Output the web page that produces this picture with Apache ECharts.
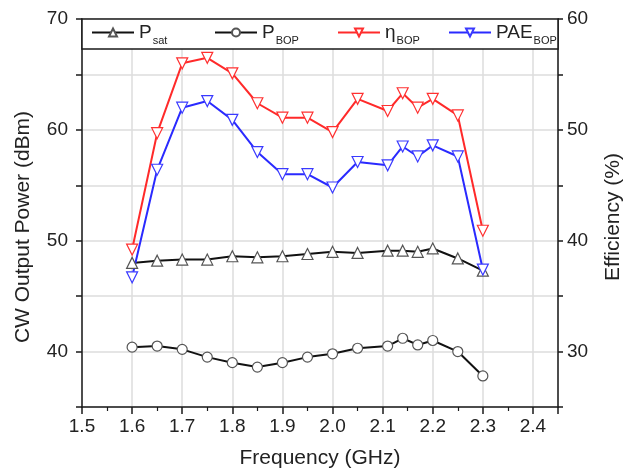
<!DOCTYPE html>
<html>
<head>
<meta charset="utf-8">
<script src="https://cdn.jsdelivr.net/npm/echarts@6/dist/echarts.min.js"></script>
<style>
  html, body { margin: 0; padding: 0; background: #fff; }
  #main { width: 626px; height: 468px; }
</style>
</head>
<body>
<div id="main"></div>
<script>
// frequency points (GHz)
var freq = [1.6, 1.65, 1.7, 1.75, 1.8, 1.85, 1.9, 1.95, 2.0, 2.05, 2.11, 2.14, 2.17, 2.2, 2.25, 2.3]
// left axis, dBm
var pSat = [48.0, 48.2, 48.3, 48.3, 48.6, 48.5, 48.6, 48.8, 49.0, 48.9, 49.1, 49.1, 49.0, 49.3, 48.4, 47.3]
var pBop = [40.4, 40.5, 40.2, 39.5, 39.0, 38.6, 39.0, 39.5, 39.8, 40.3, 40.5, 41.2, 40.6, 41.0, 40.0, 37.8]
// right axis, %
var etaBop = [39.2, 49.7, 56.0, 56.5, 55.1, 52.4, 51.1, 51.1, 49.8, 52.8, 51.7, 53.3, 52.0, 52.8, 51.3, 40.9]
var paeBop = [36.7, 46.4, 52.0, 52.6, 50.9, 48.0, 46.0, 46.0, 44.8, 47.1, 46.8, 48.5, 47.6, 48.6, 47.6, 37.4]

var xTicks = ['1.5', '1.6', '1.7', '1.8', '1.9', '2.0', '2.1', '2.2', '2.3', '2.4']
var leftTicks = [40, 50, 60, 70]
var rightTicks = [30, 40, 50, 60]

function pairs(ys) {
    var out = []
    for (var i = 0; i < freq.length; i++) {
        out.push([freq[i], ys[i]])
    }
    return out
}

var font = 'Arial, "Liberation Sans", sans-serif'
var textColor = '#222'
var axisColor = '#1a1a1a'

var myChart = echarts.init(document.getElementById('main'), null, { renderer: 'canvas' })

var legendText = {
    fontFamily: font,
    color: textColor,
    rich: {
        m: { fontSize: 19, fontFamily: font, color: textColor },
        s: { fontSize: 11, fontFamily: font, color: textColor, padding: [16, 0, 0, 1] }
    }
}
function legendItem(name, left) {
    return {
        data: [name],
        left: left,
        top: 23,
        padding: 0,
        itemWidth: 42,
        itemHeight: 10,
        itemGap: 4,
        selectedMode: false,
        z: 10,
        textStyle: legendText,
        formatter: function (n) {
            if (n === 'Psat') return '{m|P}{s|sat}'
            if (n === 'PBOP') return '{m|P}{s|BOP}'
            if (n === 'etaBOP') return '{m|η}{s|BOP}'
            return '{m|PAE}{s|BOP}'
        }
    }
}

var option = {
    backgroundColor: '#fff',
    animation: false,
    grid: { left: 82, right: 68, top: 19, bottom: 61, outerBoundsMode: 'none', containLabel: false },
    graphic: [{
        type: 'rect',
        z: 5,
        shape: { x: 82, y: 19, width: 476, height: 30 },
        style: { fill: '#fff', stroke: axisColor, lineWidth: 1.5 }
    }],
    legend: [
        legendItem('Psat', 91),
        legendItem('PBOP', 214),
        legendItem('etaBOP', 337),
        legendItem('PAEBOP', 448)
    ],
    xAxis: {
        type: 'value',
        min: 1.5,
        max: 2.45,
        interval: 0.1,
        name: 'Frequency (GHz)',
        nameLocation: 'middle',
        nameGap: 41,
        nameTextStyle: { fontFamily: font, fontSize: 21, color: textColor },
        axisLine: { lineStyle: { color: axisColor, width: 1.5 } },
        axisTick: { show: true, inside: false, length: 7, lineStyle: { color: axisColor, width: 1.5 } },
        minorTick: { show: true, splitNumber: 2, length: 4, lineStyle: { color: axisColor, width: 1.2 } },
        axisLabel: {
            margin: 10,
            fontFamily: font, fontSize: 19, color: textColor,
            formatter: function (v) {
                var s = v.toFixed(1)
                return (Math.abs(v - parseFloat(s)) < 1e-6 && xTicks.indexOf(s) >= 0) ? s : ''
            }
        },
        splitLine: { show: true, lineStyle: { color: '#ddd', width: 1.5 } }
    },
    yAxis: [{
        type: 'value',
        position: 'left',
        min: 35,
        max: 70,
        interval: 5,
        name: 'CW Output Power (dBm)',
        nameLocation: 'middle',
        nameGap: 48,
        nameTextStyle: { fontFamily: font, fontSize: 21, color: textColor, padding: [0, 28, 0, 0] },
        axisLine: { show: true, lineStyle: { color: axisColor, width: 1.5 } },
        axisTick: { show: true, inside: false, length: 6, lineStyle: { color: axisColor, width: 1.5 } },
        axisLabel: {
            margin: 14,
            fontFamily: font, fontSize: 19, color: textColor,
            formatter: function (v) { return leftTicks.indexOf(v) >= 0 ? String(v) : '' }
        },
        splitLine: { show: true, lineStyle: { color: '#ddd', width: 1.5 } }
    }, {
        type: 'value',
        position: 'right',
        min: 25,
        max: 60,
        interval: 5,
        name: 'Efficiency (%)',
        nameLocation: 'middle',
        nameGap: 45,
        nameTextStyle: { fontFamily: font, fontSize: 21, color: textColor, padding: [0, 8, 0, 0] },
        axisLine: { show: true, lineStyle: { color: axisColor, width: 1.5 } },
        axisTick: { show: true, inside: false, length: 5, lineStyle: { color: axisColor, width: 1.5 } },
        axisLabel: {
            margin: 9,
            fontFamily: font, fontSize: 19, color: textColor,
            formatter: function (v) { return rightTicks.indexOf(v) >= 0 ? String(v) : '' }
        },
        splitLine: { show: false }
    }],
    series: [{
        name: 'Psat',
        type: 'line',
        yAxisIndex: 0,
        data: pairs(pSat),
        symbol: 'triangle',
        symbolSize: 11,
        lineStyle: { color: '#111', width: 2 },
        itemStyle: { color: '#fff', borderColor: '#555', borderWidth: 1.2 }
    }, {
        name: 'PBOP',
        type: 'line',
        yAxisIndex: 0,
        data: pairs(pBop),
        symbol: 'circle',
        symbolSize: 10,
        lineStyle: { color: '#111', width: 2 },
        itemStyle: { color: '#fff', borderColor: '#555', borderWidth: 1.2 }
    }, {
        name: 'etaBOP',
        type: 'line',
        yAxisIndex: 1,
        data: pairs(etaBop),
        symbol: 'triangle',
        symbolRotate: 180,
        symbolSize: 11,
        lineStyle: { color: '#ff2a2a', width: 2 },
        itemStyle: { color: '#fff', borderColor: '#ff3030', borderWidth: 1.2 }
    }, {
        name: 'PAEBOP',
        type: 'line',
        yAxisIndex: 1,
        data: pairs(paeBop),
        symbol: 'triangle',
        symbolRotate: 180,
        symbolSize: 11,
        lineStyle: { color: '#2a2aff', width: 2 },
        itemStyle: { color: '#fff', borderColor: '#3a3aff', borderWidth: 1.2 }
    }]
}

myChart.setOption(option)
</script>
</body>
</html>
